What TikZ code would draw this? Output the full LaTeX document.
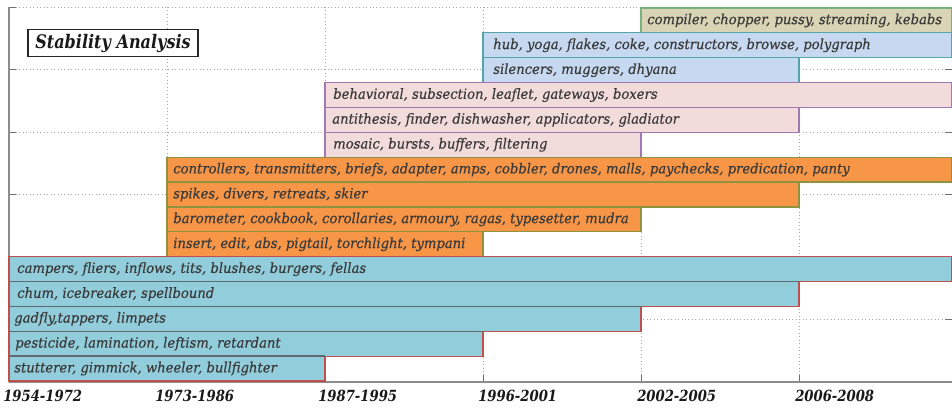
\documentclass[tikz,border=0pt]{standalone}
\usepackage{fontspec}
\setmainfont{DejaVu Serif}
\newfontfamily\barfont{DejaVu Serif}[UprightFont=* Italic, FakeStretch=0.94, FakeBold=0.4]
\newfontfamily\titlefont{DejaVu Serif}[UprightFont=* Bold Italic, FakeStretch=0.86]
\newfontfamily\yearfont{DejaVu Serif}[UprightFont=* Bold Italic, FakeStretch=0.86]
\definecolor{txt}{HTML}{3A3A3A}
\definecolor{gridc}{HTML}{A6A6A6}
\definecolor{axisc}{HTML}{8C8C8C}
\definecolor{grnfill}{HTML}{D8D4B4}
\definecolor{grnline}{HTML}{78B27E}
\definecolor{lbfill}{HTML}{C6D9F0}
\definecolor{lbline}{HTML}{52A6A8}
\definecolor{pkfill}{HTML}{F2DCDB}
\definecolor{pkline}{HTML}{A277B2}
\definecolor{orfill}{HTML}{F79646}
\definecolor{orline}{HTML}{8E933F}
\definecolor{blfill}{HTML}{92CDDC}
\definecolor{blline}{HTML}{C0504D}
\definecolor{blsep}{HTML}{5E6A70}
\tikzset{
  gridline/.style={gridc, line width=0.6pt, dotted},
  axisline/.style={axisc, line width=0.8pt},
  tickline/.style={axisc!80!black, line width=0.7pt},
  grnbar/.style={fill=grnfill, draw=grnline, line width=0.9pt},
  lbbar/.style={fill=lbfill, draw=lbline, line width=0.9pt},
  pkbar/.style={fill=pkfill, draw=pkline, line width=0.9pt},
  orbar/.style={fill=orfill, draw=orline, line width=0.9pt},
  blbar/.style={fill=blfill, draw=blline, line width=0.9pt},
  blseparator/.style={draw=blsep, line width=1.2pt},
  bartext/.style={anchor=west, inner sep=0pt, text=txt, font=\barfont\fontsize{10.5}{12}\selectfont},
  yearlabel/.style={anchor=west, inner sep=0pt, text=black!90, font=\yearfont\fontsize{11.5}{14}\selectfont},
  titlebox/.style={draw=black!85, line width=1.1pt, fill=white, inner xsep=5.5pt, inner ysep=0pt,
    minimum height=20pt, font=\titlefont\fontsize{14}{16}\selectfont, text=black!90}
}
\newcommand\chartbar[7]{% name, row, x1, x2, style, inset, text
  \draw[#5] (#3,{8+#2*24.87}) rectangle (#4,{8+(#2+1)*24.87});
  \node[bartext] (#1) at ({#3+#6},{8+(#2+0.5)*24.87}) {#7};
}
\begin{document}
\begin{tikzpicture}[x=0.75pt,y=-0.75pt]
\useasboundingbox[fill=white] (0,0) rectangle (952,407);
% grid
\foreach \yy in {7,69.5,132,194.5,257,319.5}{
  \draw[gridline] (9,\yy) -- (952,\yy);
  \draw[tickline] (9,\yy) -- (16,\yy);
  \draw[tickline] (945,\yy) -- (952,\yy);
}
\foreach \xx in {167,325,483,641,799}{
  \draw[gridline] (\xx,7) -- (\xx,382);
  \draw[tickline] (\xx,382) -- (\xx,375);
}
\draw[axisline] (9,7) -- (9,382);
\draw[axisline] (9,382) -- (952,382);
% bars
\chartbar{b0}{0}{641}{952}{grnbar}{6}{compiler, chopper, pussy, streaming, kebabs}
\chartbar{b1}{1}{483}{952}{lbbar}{10}{hub, yoga, flakes, coke, constructors, browse, polygraph}
\chartbar{b2}{2}{483}{799}{lbbar}{10}{silencers, muggers, dhyana}
\chartbar{b3}{3}{325}{952}{pkbar}{8}{behavioral, subsection, leaflet, gateways, boxers}
\chartbar{b4}{4}{325}{799}{pkbar}{7}{antithesis, finder, dishwasher, applicators, gladiator}
\chartbar{b5}{5}{325}{641}{pkbar}{8}{mosaic, bursts, buffers, filtering}
\chartbar{b6}{6}{167}{952}{orbar}{6}{controllers, transmitters, briefs, adapter, amps, cobbler, drones, malls, paychecks, predication, panty}
\chartbar{b7}{7}{167}{799}{orbar}{6}{spikes, divers, retreats, skier}
\chartbar{b8}{8}{167}{641}{orbar}{6}{barometer, cookbook, corollaries, armoury, ragas, typesetter, mudra}
\chartbar{b9}{9}{167}{483}{orbar}{6}{insert, edit, abs, pigtail, torchlight, tympani}
\chartbar{b10}{10}{9}{952}{blbar}{8}{campers, fliers, inflows, tits, blushes, burgers, fellas}
\chartbar{b11}{11}{9}{799}{blbar}{8}{chum, icebreaker, spellbound}
\draw[blseparator] (9,{8+11*24.87}) -- (799,{8+11*24.87});
\chartbar{b12}{12}{9}{641}{blbar}{5}{gadfly,tappers, limpets}
\draw[blseparator] (9,{8+12*24.87}) -- (641,{8+12*24.87});
\chartbar{b13}{13}{9}{483}{blbar}{6}{pesticide, lamination, leftism, retardant}
\draw[blseparator] (9,{8+13*24.87}) -- (483,{8+13*24.87});
\chartbar{b14}{14}{9}{325}{blbar}{5}{stutterer, gimmick, wheeler, bullfighter}
\draw[blseparator] (9,{8+14*24.87}) -- (325,{8+14*24.87});
% title
\node[titlebox] (title) at (113,43) {Stability Analysis};
% year labels
\node[yearlabel] (y1) at (3,396) {1954-1972};
\node[yearlabel] (y2) at (155,396) {1973-1986};
\node[yearlabel] (y3) at (318,396) {1987-1995};
\node[yearlabel] (y4) at (478,396) {1996-2001};
\node[yearlabel] (y5) at (637,396) {2002-2005};
\node[yearlabel] (y6) at (795,396) {2006-2008};
\end{tikzpicture}
\end{document}
